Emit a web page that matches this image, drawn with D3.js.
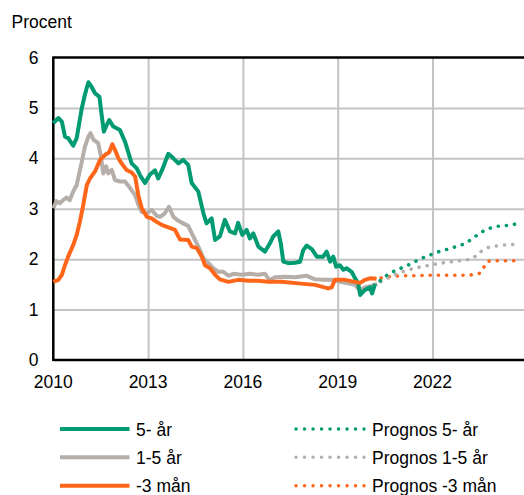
<!DOCTYPE html>
<html>
<head>
<meta charset="utf-8">
<script src="https://cdn.jsdelivr.net/npm/d3@7"></script>
<style>
  body { margin: 0; background: #fff; }
  text { font-family: "Liberation Sans", Arial, sans-serif; }
</style>
</head>
<body>
<div id="chart"></div>
<script>
// 5-year
var years5 = [2010.0,2010.16,2010.27,2010.37,2010.47,2010.63,2010.74,2010.9,2011.0,2011.11,2011.21,2011.32,2011.46,2011.53,2011.6,2011.69,2011.77,2011.9,2012.11,2012.27,2012.48,2012.64,2012.74,2012.9,2013.06,2013.22,2013.32,2013.45,2013.64,2013.8,2013.96,2014.11,2014.27,2014.38,2014.59,2014.75,2014.85,2015.01,2015.12,2015.27,2015.43,2015.59,2015.75,2015.85,2015.98,2016.12,2016.22,2016.33,2016.49,2016.7,2016.86,2016.96,2017.12,2017.2,2017.28,2017.44,2017.65,2017.81,2017.91,2018.02,2018.18,2018.34,2018.54,2018.65,2018.76,2018.86,2018.95,2019.07,2019.18,2019.28,2019.44,2019.55,2019.65,2019.71,2019.86,2020.02,2020.09,2020.18];
var vals5 = [4.70,4.80,4.73,4.43,4.40,4.25,4.40,4.99,5.26,5.51,5.42,5.29,5.22,4.86,4.53,4.66,4.76,4.63,4.56,4.33,3.90,3.80,3.67,3.51,3.68,3.76,3.60,3.78,4.09,4.00,3.90,3.97,3.87,3.51,3.34,2.91,2.71,2.81,2.38,2.45,2.78,2.55,2.51,2.72,2.48,2.58,2.41,2.51,2.25,2.15,2.32,2.45,2.55,2.31,1.95,1.92,1.93,1.95,2.18,2.27,2.20,2.05,2.05,2.15,1.95,2.05,1.85,1.88,1.79,1.82,1.75,1.62,1.52,1.29,1.39,1.44,1.32,1.51];

// 1-5 year
var years15 = [2010.0,2010.1,2010.21,2010.31,2010.42,2010.52,2010.63,2010.74,2010.9,2011.0,2011.11,2011.18,2011.27,2011.42,2011.5,2011.58,2011.67,2011.74,2011.85,2011.95,2012.11,2012.27,2012.43,2012.59,2012.69,2012.8,2012.96,2013.11,2013.27,2013.38,2013.53,2013.66,2013.8,2013.96,2014.11,2014.27,2014.43,2014.59,2014.75,2014.91,2015.06,2015.22,2015.38,2015.54,2015.7,2015.96,2016.22,2016.49,2016.7,2016.8,2016.86,2017.02,2017.33,2017.65,2018.02,2018.28,2018.54,2018.81,2019.07,2019.33,2019.55,2019.71,2019.86,2020.07,2020.25];
var vals15 = [3.01,3.15,3.11,3.17,3.22,3.17,3.34,3.47,3.93,4.23,4.43,4.50,4.37,4.30,4.07,3.70,3.84,3.70,3.77,3.57,3.54,3.54,3.41,3.27,3.08,2.94,2.91,2.98,2.86,2.84,2.91,3.04,2.84,2.76,2.71,2.66,2.45,2.25,2.02,1.92,1.82,1.75,1.75,1.67,1.71,1.69,1.71,1.69,1.71,1.62,1.59,1.64,1.65,1.64,1.67,1.60,1.59,1.59,1.55,1.52,1.49,1.38,1.44,1.47,1.51];

// -3 months
var years3m = [2010.0,2010.16,2010.27,2010.37,2010.47,2010.63,2010.74,2010.84,2010.95,2011.06,2011.16,2011.32,2011.48,2011.64,2011.77,2011.87,2011.95,2012.06,2012.16,2012.32,2012.48,2012.59,2012.69,2012.8,2012.96,2013.11,2013.27,2013.43,2013.64,2013.85,2014.01,2014.27,2014.38,2014.54,2014.7,2014.8,2014.96,2015.12,2015.27,2015.54,2015.85,2016.17,2016.49,2016.8,2017.23,2017.75,2018.28,2018.7,2018.81,2018.91,2019.23,2019.55,2019.71,2019.86,2020.02,2020.23];
var vals3m = [1.55,1.59,1.69,1.88,2.05,2.28,2.48,2.74,3.08,3.47,3.60,3.74,3.97,4.07,4.12,4.28,4.17,4.00,3.90,3.77,3.72,3.64,3.27,3.01,2.84,2.81,2.74,2.68,2.63,2.58,2.39,2.38,2.25,2.22,2.05,1.88,1.82,1.69,1.60,1.55,1.59,1.57,1.57,1.55,1.55,1.52,1.49,1.42,1.44,1.59,1.59,1.55,1.53,1.59,1.62,1.61];

// forecasts (quarterly)
var fcYears = [2020.25,2020.5,2020.75,2021,2021.25,2021.5,2021.75,2022,2022.25,2022.5,2022.75,2023,2023.25,2023.5,2023.75,2024,2024.25,2024.5,2024.75];
var fc5 = [1.52,1.66,1.75,1.82,1.89,1.97,2.04,2.10,2.16,2.20,2.25,2.30,2.40,2.52,2.60,2.65,2.66,2.68,2.71];
var fc15 = [1.52,1.60,1.67,1.74,1.79,1.83,1.86,1.89,1.92,1.94,1.96,1.98,2.00,2.14,2.23,2.26,2.28,2.29,2.30];
var fc3m = [1.61,1.64,1.66,1.67,1.67,1.67,1.68,1.68,1.68,1.68,1.68,1.68,1.69,1.72,1.96,1.97,1.97,1.97,1.97];

var xTicks = [2010, 2013, 2016, 2019, 2022];
var yTicks = [0, 1, 2, 3, 4, 5, 6];

var green = "#009b72", grey = "#b6aea8", orange = "#ff661a";

var w = 524, h = 495;
var plotLeft = 53.3, plotRight = 527.3, plotTop = 57.5, plotBottom = 360;

var svg = d3.select("#chart").append("svg")
    .attr("width", w)
    .attr("height", h);

var x = d3.scaleLinear().domain([2010, 2025]).range([plotLeft, plotRight]);
var y = d3.scaleLinear().domain([0, 6]).range([plotBottom, plotTop]);

// gridlines
svg.append("g")
   .attr("transform", "translate(" + plotLeft + ",0)")
   .call(d3.axisLeft(y).tickValues(yTicks.slice(1, 6)).tickSize(-(plotRight - plotLeft)).tickFormat(""))
   .call(function(g) { g.select(".domain").remove(); })
   .selectAll("line").attr("stroke", "#c4c4c4").attr("stroke-width", 2);

svg.append("g")
   .attr("transform", "translate(0," + plotBottom + ")")
   .call(d3.axisBottom(x).tickValues(xTicks.slice(1)).tickSize(-(plotBottom - plotTop)).tickFormat(""))
   .call(function(g) { g.select(".domain").remove(); })
   .selectAll("line").attr("stroke", "#c4c4c4").attr("stroke-width", 2);

// frame: left, bottom, top
svg.append("line").attr("x1", plotLeft).attr("x2", plotLeft).attr("y1", plotTop - 1).attr("y2", plotBottom + 1)
   .attr("stroke", "#000").attr("stroke-width", 2.5);
svg.append("line").attr("x1", plotLeft).attr("x2", plotRight).attr("y1", plotBottom).attr("y2", plotBottom)
   .attr("stroke", "#000").attr("stroke-width", 2.5);
svg.append("line").attr("x1", plotLeft).attr("x2", plotRight).attr("y1", plotTop).attr("y2", plotTop)
   .attr("stroke", "#000").attr("stroke-width", 2.5);

// tick labels
svg.selectAll(".ylab")
   .data(yTicks)
   .enter()
   .append("text")
   .attr("class", "ylab")
   .text(function(d) { return d; })
   .attr("x", 38.5)
   .attr("y", function(d) { return y(d) + 6; })
   .attr("text-anchor", "end")
   .attr("font-size", "17.5px")
   .attr("fill", "#000");

svg.selectAll(".xlab")
   .data(xTicks)
   .enter()
   .append("text")
   .attr("class", "xlab")
   .text(function(d) { return d; })
   .attr("x", function(d) { return x(d); })
   .attr("y", 388)
   .attr("text-anchor", "middle")
   .attr("font-size", "17.5px")
   .attr("fill", "#000");

svg.append("text")
   .text("Procent")
   .attr("x", 11.5)
   .attr("y", 28)
   .attr("font-size", "17.5px")
   .attr("fill", "#000");

var line = d3.line()
    .x(function(d) { return x(d[0]); })
    .y(function(d) { return y(d[1]); });

function pairs(xs, ys) {
  return xs.map(function(v, i) { return [v, ys[i]]; });
}

var actual = [
  { xs: years3m, ys: vals3m, color: orange },
  { xs: years15, ys: vals15, color: grey },
  { xs: years5, ys: vals5, color: green }
];
var forecast = [
  { xs: fcYears, ys: fc3m, color: orange },
  { xs: fcYears, ys: fc15, color: grey },
  { xs: fcYears, ys: fc5, color: green }
];

// grey first, then green, orange on top
svg.selectAll(".hist")
   .data([actual[1], actual[2], actual[0]])
   .enter()
   .append("path")
   .attr("class", "hist")
   .attr("d", function(s) { return line(pairs(s.xs, s.ys)); })
   .attr("fill", "none")
   .attr("stroke", function(s) { return s.color; })
   .attr("stroke-width", 4)
   .attr("stroke-linejoin", "round");

svg.selectAll(".fc")
   .data(forecast)
   .enter()
   .append("path")
   .attr("class", "fc")
   .attr("d", function(s) { return line(pairs(s.xs, s.ys)); })
   .attr("fill", "none")
   .attr("stroke", function(s) { return s.color; })
   .attr("stroke-width", 3.6)
   .attr("stroke-linecap", "round")
   .attr("stroke-dasharray", "0.1,8.1")
   .attr("stroke-dashoffset", -4);

// legend
var legendSolid = [
  { label: "5- år", color: green },
  { label: "1-5 år", color: grey },
  { label: "-3 mån", color: orange }
];
var legendDot = [
  { label: "Prognos 5- år", color: green },
  { label: "Prognos 1-5 år", color: grey },
  { label: "Prognos -3 mån", color: orange }
];
var rowY = [429, 457.3, 485.7];

svg.selectAll(".lgs")
   .data(legendSolid)
   .enter()
   .append("line")
   .attr("class", "lgs")
   .attr("x1", 60).attr("x2", 129.5)
   .attr("y1", function(d, i) { return rowY[i]; })
   .attr("y2", function(d, i) { return rowY[i]; })
   .attr("stroke", function(d) { return d.color; })
   .attr("stroke-width", 4);

svg.selectAll(".lgst")
   .data(legendSolid)
   .enter()
   .append("text")
   .attr("class", "lgst")
   .text(function(d) { return d.label; })
   .attr("x", 136)
   .attr("y", function(d, i) { return rowY[i] + 6.5; })
   .attr("font-size", "17.5px")
   .attr("fill", "#000");

svg.selectAll(".lgd")
   .data(legendDot)
   .enter()
   .append("line")
   .attr("class", "lgd")
   .attr("x1", 296).attr("x2", 364)
   .attr("y1", function(d, i) { return rowY[i]; })
   .attr("y2", function(d, i) { return rowY[i]; })
   .attr("stroke", function(d) { return d.color; })
   .attr("stroke-width", 3.4)
   .attr("stroke-linecap", "round")
   .attr("stroke-dasharray", "0.1,8.4");

svg.selectAll(".lgdt")
   .data(legendDot)
   .enter()
   .append("text")
   .attr("class", "lgdt")
   .text(function(d) { return d.label; })
   .attr("x", 372)
   .attr("y", function(d, i) { return rowY[i] + 6.5; })
   .attr("font-size", "17.5px")
   .attr("fill", "#000");
</script>
</body>
</html>
